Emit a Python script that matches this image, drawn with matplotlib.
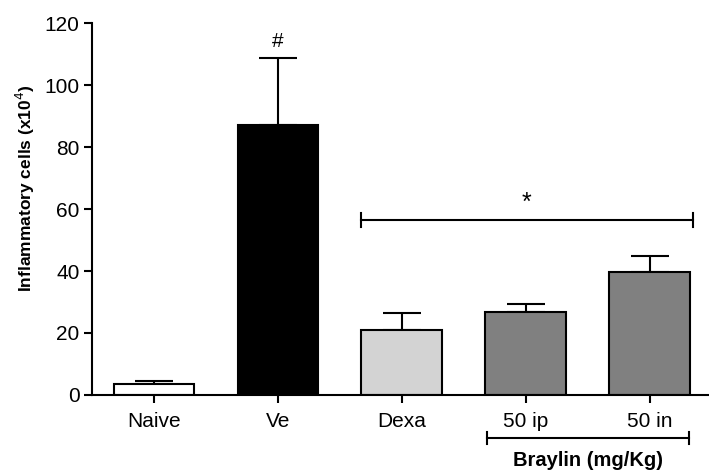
import numpy as np
import matplotlib.pyplot as plt

plt.rcParams['font.family'] = ['Liberation Sans', 'DejaVu Sans']

groups = ['Naive', 'Ve', 'Dexa', '50 ip', '50 in']
means = [3.4, 87.2, 21.0, 26.8, 39.8]
sems = [1.1, 21.5, 5.3, 2.4, 5.0]
colors = ['white', 'black', '#d3d3d3', '#808080', '#808080']

fig = plt.figure(figsize=(7.09, 4.70), dpi=100)
ax = fig.add_axes([0.1298, 0.1596, 0.8702, 0.7914])

x = np.arange(len(groups))
ax.bar(x, means, width=0.65, color=colors, edgecolor='black', linewidth=1.5, zorder=2)
ax.errorbar(x, means, yerr=[np.zeros(len(sems)), sems], fmt='none', ecolor='black',
            elinewidth=1.5, capsize=14, capthick=1.5, zorder=1)

ax.set_xlim(-0.5, 4.48)
ax.set_ylim(0, 120)
ax.set_yticks(np.arange(0, 121, 20))
ax.set_xticks(x)
ax.set_xticklabels(groups)
ax.tick_params(axis='both', direction='out', length=6, width=1.5, labelsize=15, pad=3)
ax.tick_params(axis='x', pad=6)
for s in ['top', 'right']:
    ax.spines[s].set_visible(False)
for s in ['left', 'bottom']:
    ax.spines[s].set_linewidth(1.5)
ax.set_ylabel('Inflammatory cells (x10$^4$)', fontsize=12.5, fontweight='bold')
ax.yaxis.set_label_coords(-0.09, 0.555)

# significance marks
ax.text(1, 114, '#', ha='center', va='center', fontsize=15)
ax.plot([1.675, 4.35], [56.5, 56.5], color='black', lw=1.5)
for xe in [1.675, 4.35]:
    ax.plot([xe, xe], [54.3, 58.7], color='black', lw=1.5)
ax.text(3.01, 58, '*', ha='center', va='bottom', fontsize=18)

# Braylin group bracket under the axis
trans = ax.get_xaxis_transform()
ax.plot([2.69, 4.32], [-0.116, -0.116], color='black', lw=1.5, transform=trans, clip_on=False)
for xe in [2.69, 4.32]:
    ax.plot([xe, xe], [-0.1, -0.132], color='black', lw=1.5, transform=trans, clip_on=False)
ax.text(3.5, -0.176, 'Braylin (mg/Kg)', ha='center', va='center', fontsize=14.5,
        fontweight='bold', transform=trans)

fig.savefig('out.png', dpi=100)
